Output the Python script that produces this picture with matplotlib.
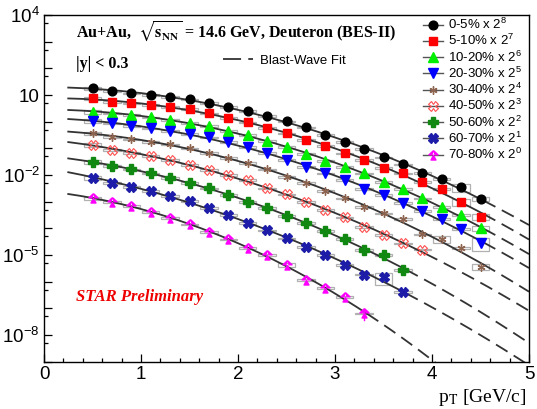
import numpy as np
import matplotlib
matplotlib.use('Agg')
import matplotlib.pyplot as plt
from matplotlib.lines import Line2D
from matplotlib.patches import Rectangle
from matplotlib.path import Path
from matplotlib.ticker import FixedLocator, FixedFormatter, NullFormatter

plt.rcParams['font.family'] = ['Liberation Sans', 'DejaVu Sans']
plt.rcParams['mathtext.fontset'] = 'custom'
plt.rcParams['mathtext.rm'] = 'Liberation Sans'
plt.rcParams['mathtext.it'] = 'Liberation Sans:italic'
plt.rcParams['mathtext.bf'] = 'Liberation Sans:bold'

# pT bin centres (GeV/c)
pt_bins = [0.5, 0.7, 0.9, 1.1, 1.3, 1.5, 1.7, 1.9, 2.1, 2.3, 2.5,
           2.7, 2.9, 3.1, 3.3, 3.5, 3.7, 3.9, 4.1, 4.3, 4.5]

centralities = ['0-5%', '5-10%', '10-20%', '20-30%', '30-40%',
                '40-50%', '50-60%', '60-70%', '70-80%']
scale_pow = [8, 7, 6, 5, 4, 3, 2, 1, 0]

# d2N/(2pi pT dpT dy), already multiplied by 2^n
yield_0_5 = [17.9, 13.9, 11.6, 10.0, 8.65, 6.90, 5.15, 3.65, 2.51, 1.63, 1.02,
             0.605, 0.317, 0.169, 0.0946, 0.0461, 0.0252, 0.0122, 6.92e-3, 3.47e-3, 1.29e-3]
yield_5_10 = [7.53, 5.61, 4.89, 4.22, 3.65, 2.99, 2.06, 1.41, 0.948, 0.594, 0.366,
              0.206, 0.126, 0.0652, 0.0366, 0.0188, 0.0116, 5.62e-3, 2.99e-3, 1.00e-3, 2.74e-4]
yield_10_20 = [2.37, 2.06, 1.78, 1.46, 1.16, 0.916, 0.707, 0.448, 0.317, 0.189, 0.115,
               0.0614, 0.0344, 0.0195, 0.0116, 5.62e-3, 2.92e-3, 1.34e-3, 6.49e-4, 3.17e-4, 1.00e-4]
yield_20_30 = [1.06, 0.869, 0.707, 0.565, 0.459, 0.345, 0.259, 0.177, 0.115, 0.0687, 0.0366,
               0.0205, 0.0116, 6.50e-3, 2.92e-3, 1.78e-3, 9.16e-4, 4.48e-4, 2.19e-4, 9.46e-5, 2.90e-5]
yield_30_40 = [0.366, 0.274, 0.218, 0.177, 0.142, 0.100, 0.0687, 0.0446, 0.0290, 0.0164, 8.65e-3,
               4.90e-3, 2.52e-3, 1.34e-3, 6.49e-4, 3.67e-4, 2.19e-4, 5.89e-5, 3.89e-5, 1.79e-5, 3.56e-6]
yield_40_50 = [0.134, 0.0867, 0.0687, 0.0516, 0.0366, 0.0238, 0.0154, 0.0100, 6.50e-3,
               3.18e-3, 1.89e-3, 1.00e-3, 4.88e-4, 2.60e-4, 1.15e-4, 5.64e-5, 2.75e-5, 1.61e-5]
yield_50_60 = [0.0316, 0.0218, 0.0164, 0.0116, 7.94e-3, 5.15e-3, 3.18e-3, 1.78e-3, 1.00e-3,
               5.96e-4, 2.90e-4, 1.55e-4, 7.96e-5, 3.99e-5, 1.55e-5, 1.00e-5, 2.75e-6]
yield_60_70 = [7.94e-3, 5.15e-3, 3.65e-3, 2.52e-3, 1.63e-3, 1.06e-3, 5.96e-4, 3.17e-4, 1.63e-4,
               8.45e-5, 4.24e-5, 2.05e-5, 1.03e-5, 4.23e-6, 1.86e-6, 1.46e-6, 4.22e-7]
yield_70_80 = [1.34e-3, 1.00e-3, 6.89e-4, 4.22e-4, 2.51e-4, 1.40e-4, 7.30e-5, 3.89e-5, 1.88e-5,
               1.00e-5, 4.23e-6, 1.16e-6, 5.96e-7, 2.74e-7, 6.53e-8]

yields = [yield_0_5, yield_5_10, yield_10_20, yield_20_30, yield_30_40,
          yield_40_50, yield_50_60, yield_60_70, yield_70_80]

# relative systematic uncertainties (default, first bin, and the larger ones)
sys_default = 0.07
sys_first = 0.15
sys_large = {
    '0-5%': {19: 0.35, 20: 0.2},
    '5-10%': {19: 0.3, 20: 0.25},
    '10-20%': {20: 0.2},
    '20-30%': {20: 0.5},
    '30-40%': {18: 0.3, 20: 0.25},
    '60-70%': {15: 0.5},
    '70-80%': {10: 0.15, 11: 0.12},
}
# relative statistical errors large enough to be seen
stat_large = {'70-80%': {14: 0.45}}


def three_triangles():
    tris = [[(-0.55, -1.0), (0.55, -1.0), (0.0, 0.0)],
            [(-1.0, 0.15), (-0.35, 0.15), (-0.1, 1.0)],
            [(0.35, 0.15), (1.0, 0.15), (0.1, 1.0)]]
    verts, codes = [], []
    for t in tris:
        verts += t + [t[0]]
        codes += [Path.MOVETO, Path.LINETO, Path.LINETO, Path.CLOSEPOLY]
    return Path(verts, codes)


styles = [
    dict(marker='o', color='black', ms=6.3),
    dict(marker='s', color='#ff0000', ms=5.6),
    dict(marker='^', color='#00ee00', ms=6.5),
    dict(marker='v', color='#0000ff', ms=6.5),
    dict(marker=(6, 2, 0), color='#8c6450', ms=5.8, mew=1.0),
    dict(marker='X', color='#ff5050', ms=6.5, mfc='none', mew=0.8),
    dict(marker='P', color='#118811', ms=6.5),
    dict(marker='X', color='#1c1ca8', ms=6.5),
    dict(marker=three_triangles(), color='#ff00ff', ms=6.5),
]

fig = plt.figure(figsize=(5.37, 4.09), dpi=100)
ax = fig.add_axes([44 / 537, 47.3 / 409, 485 / 537, 346.7 / 409])
ax.set_yscale('log')
ax.set_xlim(0, 5)
ax.set_ylim(1e-9, 1e4)

fit_color = '#333333'
handles = []
for cent, pw, ys, st in zip(centralities, scale_pow, yields, styles):
    x = np.array(pt_bins[:len(ys)])
    y = np.array(ys)

    # smooth fit of log-yield, solid over the measured range, dashed beyond
    coef = np.polyfit(x, np.log10(y), 2)
    xs = np.linspace(0.25, x[-1] + 0.03, 200)
    xd = np.linspace(x[-1] + 0.03, 5.0, 200)
    ax.plot(xs, 10 ** np.polyval(coef, xs), color=fit_color, lw=1.3, zorder=2)
    ax.plot(xd, 10 ** np.polyval(coef, xd), color=fit_color, lw=1.3,
            dashes=(7.5, 4), zorder=2)

    sys = np.full(len(ys), sys_default)
    sys[0] = sys_first
    for i, r in sys_large.get(cent, {}).items():
        sys[i] = r
    for xi, yi, r in zip(x, y, sys):
        ax.add_patch(Rectangle((xi - 0.09, yi * (1 - r)), 0.18, 2 * r * yi,
                               fill=False, ec='#b0b0b0', lw=0.9, zorder=1))

    for i, r in stat_large.get(cent, {}).items():
        ax.plot([x[i], x[i]], [y[i] * (1 - r), y[i] * (1 + r)],
                color=st['color'], lw=1.0, zorder=3)

    kw = dict(st)
    color = kw.pop('color')
    kw.setdefault('mfc', color)
    ax.plot(x, y, ls='none', mec=color, zorder=4, **kw)
    handles.append(Line2D([], [], color='#555555', lw=1.0, mec=color, **kw))

# axes style
for s in ax.spines.values():
    s.set_linewidth(1.0)
ax.tick_params(which='both', direction='in', top=False, right=False,
               labelsize=13.5, width=0.9)
ax.tick_params(which='major', length=6, pad=3)
ax.tick_params(which='minor', length=3)
ax.set_xticks([0, 1, 2, 3, 4, 5])
ax.set_xticks(np.arange(0, 5.01, 0.2), minor=True)

decades = [10.0 ** k for k in range(-9, 5)]
ylabels = {4: '$10^{4}$', 1: '10', -2: '$10^{-2}$', -5: '$10^{-5}$', -8: '$10^{-8}$'}
ax.yaxis.set_major_locator(FixedLocator(decades))
ax.yaxis.set_major_formatter(FixedFormatter([ylabels.get(k, '') for k in range(-9, 5)]))
ax.yaxis.set_minor_locator(FixedLocator([5 * 10.0 ** k for k in range(-10, 4)]))
ax.yaxis.set_minor_formatter(NullFormatter())

# centrality legend
leg = ax.legend(handles, [f'{c} x 2$^{{{p}}}$' for c, p in zip(centralities, scale_pow)],
                loc='upper left', bbox_to_anchor=(423 / 537, 1 - 17 / 409),
                bbox_transform=fig.transFigure, frameon=False, fontsize=9.5,
                handlelength=1.5, handletextpad=0.4, labelspacing=0.08,
                borderpad=0, borderaxespad=0, numpoints=1)
ax.add_artist(leg)

# fit legend
bw = Line2D([], [], color=fit_color, lw=1.3, dashes=(10, 4))
ax.legend([bw], ['Blast-Wave Fit'], loc='center left',
          bbox_to_anchor=(223 / 537, 1 - 61 / 409), bbox_transform=fig.transFigure,
          frameon=False, fontsize=9.5, handlelength=2.3, handletextpad=0.5,
          borderpad=0, borderaxespad=0)

serif = ['Liberation Serif', 'DejaVu Serif']
fig.text(76 / 537, 1 - 38 / 409,
         r'Au+Au,  $\sqrt{\mathbf{s}_{\mathbf{NN}}}$ = 14.6 GeV, Deuteron (BES-II)',
         family=serif, weight='bold', fontsize=11.5, math_fontfamily='stix',
         va='baseline')
fig.text(76 / 537, 1 - 68 / 409, '|y| < 0.3', family=serif, weight='bold',
         fontsize=11.5, va='baseline')
fig.text(76 / 537, 1 - 297 / 409, 'STAR Preliminary', family=serif,
         weight='bold', style='italic', color='#ee0000', fontsize=12, va='center')
fig.text(527 / 537, 1 - 402 / 409, r'p$_{\mathrm{T}}$ [GeV/c]', family=serif,
         fontsize=14, math_fontfamily='stix', ha='right', va='baseline')

fig.savefig('out.png', dpi=100)
